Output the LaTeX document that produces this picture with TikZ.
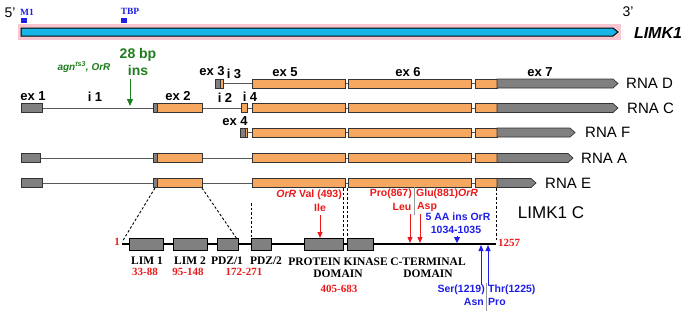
\documentclass[tikz,border=0pt]{standalone}
\usepackage{fontspec}
\setmainfont{Liberation Serif}
\setsansfont{Liberation Sans}
\usetikzlibrary{arrows.meta}
\definecolor{exorange}{RGB}{247,168,96}
\definecolor{exgray}{RGB}{128,128,128}
\definecolor{insgreen}{RGB}{30,125,30}
\definecolor{annred}{RGB}{235,25,25}
\definecolor{annblue}{RGB}{30,30,230}
\definecolor{genecyan}{RGB}{25,180,230}
\definecolor{genepink}{RGB}{248,198,208}
\newcommand\ebox[4]{\filldraw[fill=#4,draw=black!80,line width=0.7pt] (#1,#3-4.5) rectangle (#2,#3+4.5);}
\newcommand\etail[3]{\filldraw[fill=exgray,draw=black!80,line width=0.7pt] (#1,#3-4.5) -- (#2,#3-4.5) -- (#2+5,#3) -- (#2,#3+4.5) -- (#1,#3+4.5) -- cycle;}
\newcommand\intr[3]{\draw[intron] (#1,#3) -- (#2,#3);}
\newcommand\rnaend[2]{%
  \intr{345}{348}{#1}\intr{471}{475}{#1}%
  \ebox{252}{345}{#1}{exorange}\ebox{348}{471}{#1}{exorange}%
  \ebox{475}{497}{#1}{exorange}\etail{497}{#2}{#1}}
\begin{document}
\begin{tikzpicture}[x=1pt,y=-1pt,
  intron/.style={draw=black!65,line width=0.8pt},
  exlab/.style={font=\sffamily\bfseries\fontsize{13}{13}\selectfont,inner sep=0pt},
  rnalab/.style={font=\sffamily\fontsize{15}{15}\selectfont,anchor=west,inner sep=0pt},
  domlab/.style={font=\rmfamily\bfseries\fontsize{11.5}{11.5}\selectfont,inner sep=0pt},
  rednum/.style={font=\rmfamily\bfseries\fontsize{11}{11}\selectfont,text=annred,inner sep=0pt},
  redann/.style={font=\sffamily\bfseries\fontsize{10.5}{10.5}\selectfont,text=annred,inner sep=0pt},
  blueann/.style={font=\sffamily\bfseries\fontsize{10.5}{10.5}\selectfont,text=annblue,inner sep=0pt},
  dombox/.style={fill=exgray,draw=black,line width=0.9pt},
  zoomline/.style={dashed,dash pattern=on 2.5pt off 2pt,line width=0.9pt},
  redarrow/.style={draw=annred,line width=1pt,-{Triangle[length=6pt,width=5pt]}},
  bluearrow/.style={draw=annblue,line width=1pt,-{Triangle[length=6pt,width=5pt]}},
  sep/.style={draw=black!40,line width=0.8pt}]
\useasboundingbox (0,0) rectangle (686,311);
% gene bar
\fill[genepink] (18,24) rectangle (621,40);
\filldraw[fill=genecyan,draw=black,line width=1pt] (21,28) -- (613,28) -- (618,32) -- (613,36) -- (21,36) -- cycle;
\fill[annblue] (21,18) rectangle (27,23);
\fill[annblue] (121,18) rectangle (127,23);
\node[font=\rmfamily\bfseries\fontsize{9.5}{9.5}\selectfont,text=annblue,inner sep=0pt] (m1) at (27,12) {M1};
\node[font=\rmfamily\bfseries\fontsize{9.5}{9.5}\selectfont,text=annblue,inner sep=0pt] (tbp) at (130,11) {TBP};
\node[font=\sffamily\fontsize{14}{14}\selectfont,inner sep=0pt] (five) at (10,13) {5'};
\node[font=\sffamily\fontsize{14}{14}\selectfont,inner sep=0pt] (three) at (628,12) {3'};
\node[font=\sffamily\bfseries\itshape\fontsize{16}{16}\selectfont,inner sep=0pt] (limk) at (658,33) {LIMK1};
% insertion
\node[font=\sffamily\bfseries\fontsize{14}{14}\selectfont,text=insgreen,inner sep=0pt] (bp) at (138,55) {28 bp};
\node[font=\sffamily\bfseries\fontsize{14}{14}\selectfont,text=insgreen,inner sep=0pt] (ins) at (138,70) {ins};
\node[font=\sffamily\bfseries\itshape\fontsize{10}{10}\selectfont,text=insgreen,inner sep=0pt] (agn) at (84,67) {agn\textsuperscript{ts3}, OrR};
\coordinate (insTop) at (130,79);
\coordinate (insBot) at (130,106);
\draw[draw=insgreen,line width=1pt,-{Triangle[length=7pt,width=6pt]}] (insTop) -- (insBot);
% RNA D
\intr{223}{252}{83.5}
\ebox{215}{220}{83.5}{exgray}\ebox{220}{223}{83.5}{exorange}
\rnaend{83.5}{613}
% RNA C
\intr{42}{153}{108}\intr{202}{241}{108}\intr{247}{252}{108}
\ebox{21}{42}{108}{exgray}
\ebox{153}{157}{108}{exgray}\ebox{157}{202}{108}{exorange}
\ebox{241}{247}{108}{exorange}
\rnaend{108}{613}
% RNA F
\intr{247}{252}{132.5}
\ebox{240}{245}{132.5}{exgray}\ebox{245}{247}{132.5}{exorange}
\rnaend{132.5}{570}
% RNA A
\intr{40}{153}{158}\intr{202}{252}{158}
\ebox{21}{40}{158}{exgray}
\ebox{153}{157}{158}{exgray}\ebox{157}{202}{158}{exorange}
\rnaend{158}{568}
% RNA E
\intr{42}{153}{183}\intr{202}{252}{183}
\ebox{21}{42}{183}{exgray}
\ebox{153}{157}{183}{exgray}\ebox{157}{202}{183}{exorange}
\rnaend{183}{531}
% exon labels
\node[exlab] (l1) at (33,96) {ex 1};
\node[exlab] (li1) at (95,97) {i 1};
\node[exlab] (l2) at (178,96) {ex 2};
\node[exlab] (li2) at (225,98) {i 2};
\node[exlab] (li4) at (250,97) {i 4};
\node[exlab] (l3) at (212,71) {ex 3};
\node[exlab] (li3) at (234,74) {i 3};
\node[exlab] (l5) at (285,72) {ex 5};
\node[exlab] (l6) at (408,72) {ex 6};
\node[exlab] (l7) at (540,72) {ex 7};
\node[exlab] (l4) at (235,121) {ex 4};
\node[rnalab] (rD) at (626,83.5) {RNA D};
\node[rnalab] (rC) at (627,108) {RNA C};
\node[rnalab] (rF) at (585,132.5) {RNA F};
\node[rnalab] (rA) at (581,158) {RNA A};
\node[rnalab] (rE) at (545,183) {RNA E};
% zoom lines
\draw[zoomline] (155,188) -- (122,242);
\draw[zoomline] (202,188) -- (237,239);
\draw[zoomline] (251,203) -- (251,237);
\draw[zoomline] (343.5,188) -- (343.5,238);
\draw[zoomline] (347,188) -- (347,238);
\draw[zoomline] (496,188) -- (496,240);
% protein
\draw[line width=1.2pt] (122,244) -- (496,244);
\draw[dombox] (129,238.5) rectangle (163,250);
\draw[dombox] (173,238.5) rectangle (207,250);
\draw[dombox] (217,238.5) rectangle (238,250);
\draw[dombox] (251,238.5) rectangle (271,250);
\draw[dombox] (304,238.5) rectangle (343,250);
\draw[dombox] (347,238.5) rectangle (373,250);
\node[rednum,anchor=east] (n1) at (120,242) {1};
\node[rednum,anchor=west] (n1257) at (498,243) {1257};
\node[domlab] (dL1) at (147,261) {LIM 1};
\node[domlab] (dL2) at (190,261) {LIM 2};
\node[domlab] (dP1) at (227,261) {PDZ/1};
\node[domlab] (dP2) at (266,261) {PDZ/2};
\node[domlab] (dPK) at (338,262) {PROTEIN KINASE};
\node[domlab] (dPK2) at (338,274) {DOMAIN};
\node[domlab] (dCT) at (428,262) {C-TERMINAL};
\node[domlab] (dCT2) at (428,274) {DOMAIN};
\node[rednum] (r1) at (145,272) {33-88};
\node[rednum] (r2) at (188,272) {95-148};
\node[rednum] (r3) at (244,272) {172-271};
\node[rednum] (r4) at (339,289) {405-683};
\node[font=\sffamily\fontsize{17}{17}\selectfont,inner sep=0pt] (lc) at (551,213) {LIMK1 C};
% red annotations
\node[redann,anchor=east] (val) at (342,195) {\textit{OrR} Val (493)};
\node[redann] (ile) at (320,208) {Ile};
\coordinate (valA) at (320,215);
\coordinate (valB) at (320,238);
\draw[redarrow] (valA) -- (valB);
\node[redann,anchor=east] (pro) at (412,194) {Pro(867)};
\node[redann,anchor=west] (glu) at (416,194) {Glu(881)\textit{OrR}};
\coordinate (sepA) at (414,187);
\coordinate (sepB) at (414,215);
\draw[sep] (sepA) -- (sepB);
\node[redann] (leu) at (402,207) {Leu};
\node[redann] (asp) at (427,207) {Asp};
\coordinate (proA) at (410,214);
\coordinate (proB) at (410,243);
\coordinate (gluA) at (420,214);
\coordinate (gluB) at (420,243);
\draw[redarrow] (proA) -- (proB);
\draw[redarrow] (gluA) -- (gluB);
% blue annotations
\node[blueann] (aa) at (458,217) {5 AA ins OrR};
\node[blueann] (aan) at (456,230) {1034-1035};
\coordinate (aaA) at (457,236);
\coordinate (aaB) at (457,243);
\draw[draw=annblue,line width=1pt,-{Triangle[length=6pt,width=6pt]}] (aaA) -- (aaB);
\coordinate (serA) at (481,285);
\coordinate (serB) at (481,245);
\coordinate (thrA) at (488,285);
\coordinate (thrB) at (488,245);
\draw[bluearrow] (serA) -- (serB);
\draw[bluearrow] (thrA) -- (thrB);
\node[blueann,anchor=east] (ser) at (485,290) {Ser(1219)};
\node[blueann,anchor=west] (thr) at (488,290) {Thr(1225)};
\node[blueann,anchor=east] (asn) at (484,302) {Asn};
\node[blueann,anchor=west] (pro2) at (488,302) {Pro};
\coordinate (sep2A) at (486,283);
\coordinate (sep2B) at (486,311);
\draw[sep] (sep2A) -- (sep2B);
\end{tikzpicture}
\end{document}
